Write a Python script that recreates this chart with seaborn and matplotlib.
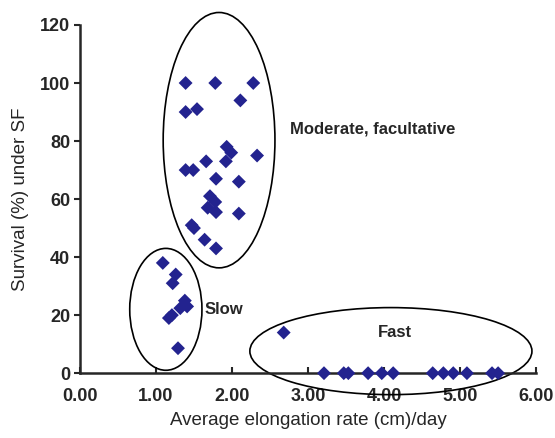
import numpy as np
import pandas as pd
import matplotlib
matplotlib.use("Agg")
import matplotlib.pyplot as plt
from matplotlib.patches import Ellipse
import seaborn as sns

# ---- data ----
moderate_x = [1.39, 1.78, 2.28, 2.11, 1.39, 1.54, 1.93, 1.99, 1.92, 1.66, 2.33,
              1.39, 1.49, 1.79, 2.09, 1.71, 1.78, 1.68, 1.79, 2.09, 1.47, 1.50,
              1.64, 1.79]
moderate_y = [100, 100, 100, 94, 90, 91, 78, 76, 73, 73, 75,
              70, 70, 67, 66, 61, 59, 57, 55.5, 55, 51, 50,
              46, 43]

slow_x = [1.09, 1.26, 1.22, 1.38, 1.41, 1.32, 1.21, 1.17, 1.29]
slow_y = [38, 34, 31, 25, 23, 22.4, 20, 19, 8.6]

fast_x = [2.68, 3.21, 3.47, 3.53, 3.79, 3.97, 4.12, 4.64, 4.78, 4.91, 5.09, 5.42, 5.50]
fast_y = [14, 0, 0, 0, 0, 0, 0, 0, 0, 0, 0, 0, 0]

df = pd.DataFrame({
    "rate": moderate_x + slow_x + fast_x,
    "survival": moderate_y + slow_y + fast_y,
})

# group outlines: (label, centre x, centre y, width, height, label x, label y, ha)
groups = [
    ("Moderate, facultative", 1.83, 80.3, 1.47, 88, 2.76, 84, "left"),
    ("Slow", 1.13, 22, 0.95, 42, 1.64, 22, "left"),
    ("Fast", 4.09, 7.6, 3.71, 30, 4.14, 14, "center"),
]

x_ticks = [0, 1, 2, 3, 4, 5, 6]
y_ticks = [0, 20, 40, 60, 80, 100, 120]

# ---- plot ----
sns.set_style("ticks")
plt.rcParams['font.family'] = ['Liberation Sans', 'DejaVu Sans']

fig = plt.figure(figsize=(5.55, 4.38), dpi=100)
ax = fig.add_axes([0.144, 0.148, 0.822, 0.795])

sns.scatterplot(data=df, x="rate", y="survival", marker="D", s=50,
                color="#23238F", edgecolor="none", ax=ax, zorder=3, clip_on=False)

for name, cx, cy, w, h, lx, ly, ha in groups:
    ax.add_patch(Ellipse((cx, cy), w, h, fill=False, edgecolor="black",
                         linewidth=1.2, clip_on=False, zorder=2))
    ax.text(lx, ly, name, ha=ha, va="center", fontsize=12, fontweight="bold")

ax.set_xlim(0, 6)
ax.set_ylim(0, 120)
ax.set_xticks(x_ticks)
ax.set_xticklabels([f"{v:.2f}" for v in x_ticks], fontweight="bold", fontsize=13)
ax.set_yticks(y_ticks)
ax.set_yticklabels([str(v) for v in y_ticks], fontweight="bold", fontsize=13)
ax.tick_params(axis="x", direction="in", length=4, width=1.5, pad=11)
ax.tick_params(axis="y", direction="out", length=4, width=1.5, pad=3)

ax.set_xlabel("Average elongation rate (cm)/day", fontsize=13.5, labelpad=5)
ax.set_ylabel("Survival (%) under SF", fontsize=13.5, labelpad=8)

sns.despine(ax=ax)
for side in ["left", "bottom"]:
    ax.spines[side].set_linewidth(1.8)

fig.savefig("out.png", dpi=100)
